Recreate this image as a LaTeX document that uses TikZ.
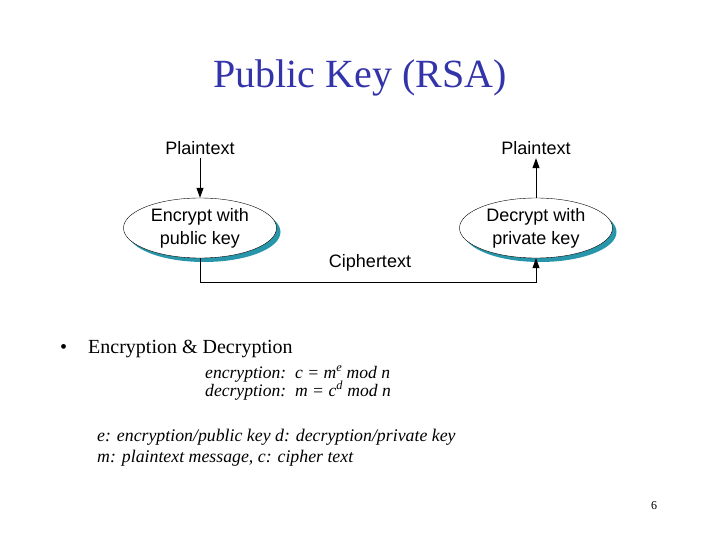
\documentclass[tikz,border=0pt]{standalone}
\usepackage{fontspec}
\setmainfont{Liberation Serif}
\setsansfont{Liberation Sans}
\definecolor{titleblue}{RGB}{51,51,170}
\definecolor{shadowteal}{RGB}{40,150,170}
\usetikzlibrary{shapes.geometric, arrows.meta, positioning, shadows}

\begin{document}
\begin{tikzpicture}[x=1pt, y=-1pt,
  stage/.style={ellipse, draw, fill=white, minimum width=153pt, minimum height=60pt, inner sep=0pt, align=center,
    font=\sffamily\fontsize{18}{23}\selectfont,
    drop shadow={shadow xshift=4pt, shadow yshift=-4pt, fill=shadowteal, opacity=1}},
  lbl/.style={font=\sffamily\fontsize{18}{22}\selectfont},
  flow/.style={-{Triangle[length=10pt, width=7pt]}, line width=0.9pt},
  txt/.style={anchor=base west, inner sep=0pt}]
  \useasboundingbox (0,0) rectangle (720,540);

  % title
  \node[font=\fontsize{40}{48}\selectfont, text=titleblue] (title) at (360,78) {Public Key (RSA)};

  % diagram
  \node[lbl] (pin) at (200,148) {Plaintext};
  \node[lbl] (pout) at (536,148) {Plaintext};
  \node[stage] (enc) at (200,228) {Encrypt with\\public key};
  \node[stage] (dec) at (536,228) {Decrypt with\\private key};
  \node[lbl] (ctext) at (370,263) {Ciphertext};
  \coordinate (bend) at (536,282);

  \draw[flow] (pin) -- (enc);
  \draw[flow] (dec) -- (pout);
  \draw[flow] (enc.south) |- (bend) -- (dec.south);

  % text below
  \node[txt, font=\fontsize{20}{24}\selectfont] (dot) at (60,353) {\textbullet};
  \node[txt, font=\fontsize{20}{24}\selectfont] (topic) at (88,353) {Encryption \& Decryption};
  \node[txt, font=\itshape\fontsize{17.6}{20}\selectfont] (encf) at (205,378) {encryption:~~c = m\textsuperscript{e} mod n};
  \node[txt, font=\itshape\fontsize{17.6}{20}\selectfont] (decf) at (205,396) {decryption:~~m = c\textsuperscript{d} mod n};
  \node[txt, font=\itshape\fontsize{17.8}{20}\selectfont] (keys) at (97,441) {e: encryption/public key d: decryption/private key};
  \node[txt, font=\itshape\fontsize{17.8}{20}\selectfont] (msgs) at (97,462) {m: plaintext message, c: cipher text};
  \node[txt, font=\fontsize{12}{14}\selectfont] (page) at (651,509) {6};
\end{tikzpicture}
\end{document}
